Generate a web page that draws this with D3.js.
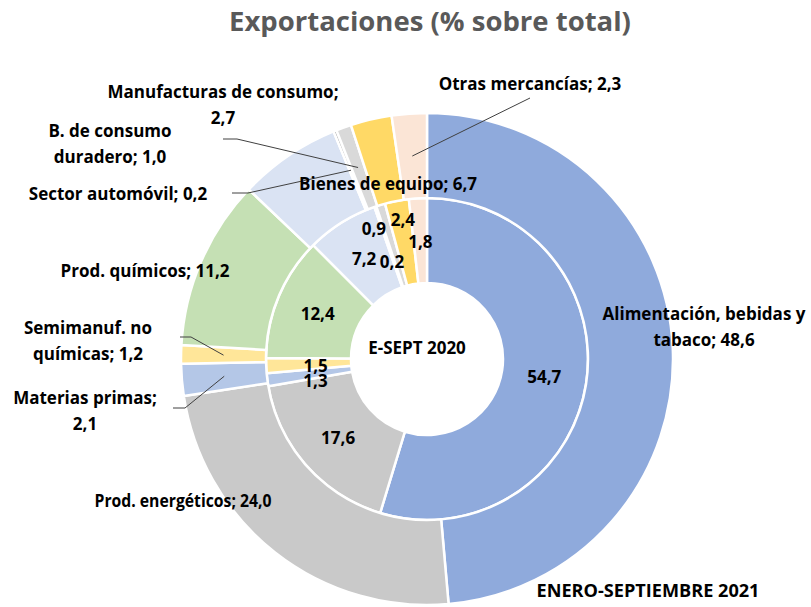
<!DOCTYPE html>
<html>
<head>
<meta charset="utf-8">
<script src="https://cdn.jsdelivr.net/npm/d3@7"></script>
<style>
  html, body { margin: 0; padding: 0; background: #fff; }
  svg { display: block; }
</style>
</head>
<body>
<svg id="chart" width="811" height="607"></svg>
<script>
// ---- Data ----
const categories = [
  "Alimentación, bebidas y tabaco",
  "Prod. energéticos",
  "Materias primas",
  "Semimanuf. no químicas",
  "Prod. químicos",
  "Bienes de equipo",
  "Sector automóvil",
  "B. de consumo duradero",
  "Manufacturas de consumo",
  "Otras mercancías"
];
const values2021 = [48.6, 24.0, 2.1, 1.2, 11.2, 6.7, 0.2, 1.0, 2.7, 2.3];
const values2020 = [54.7, 17.6, 1.3, 1.5, 12.4, 7.2, 0.2, 0.9, 2.4, 1.8];
const colors = ["#8FAADC", "#C9C9C9", "#B4C7E7", "#FFE699", "#C5E0B4",
                "#DAE3F3", "#A5A5A5", "#D9D9D9", "#FFD966", "#FBE5D6"];
const titleText = "Exportaciones (% sobre total)";
const innerSeriesName = "E-SEPT 2020";
const outerSeriesName = "ENERO-SEPTIEMBRE 2021";

// ---- Layout ----
const W = 811, H = 607;
const cx = 427, cy = 359;
const rHole = 76, rMid = 161, rOuter = 246;
const labelFont = "'Open Sans', 'Noto Sans', sans-serif";
const labelSize = 17;
const lineH = 26;

// outer labels: words on first line, centre x, first-line y, optional squeezed width
const outerLayout = [
  { n: 3, x: 704, y: 313 },
  { n: 99, x: 183, y: 500, len: 177 },
  { n: 2, x: 85, y: 397 },
  { n: 2, x: 88, y: 327 },
  { n: 99, x: 145, y: 270 },
  { n: 99, x: 388, y: 183 },
  { n: 99, x: 118, y: 193 },
  { n: 3, x: 110, y: 130 },
  { n: 3, x: 223, y: 91 },
  { n: 99, x: 530, y: 83 }
];
// leader lines: start point and optional elbow (null = none)
const leaders = [
  null, null,
  { s: [173, 408], e: [185, 408] },
  { s: [180, 337], e: [191, 337] },
  null, null,
  { s: [232, 193], e: [248, 193] },
  { s: [223, 139], e: [237, 139] },
  null,
  { s: [530, 98], e: null }
];
// inner label offsets from slice centroid
const innerOffsets = [
  [0, 0], [0, 0], [6, 6], [7, 2], [0, 0],
  [0, 0], [3, 15], [-19, -17], [-2, -23], [0, 1]
];

const fmt = d3.formatLocale({ decimal: ",", thousands: ".", grouping: [3], currency: ["", "€"] }).format(".1f");

const svg = d3.select("#chart");

// Title
svg.append("text")
  .attr("x", 430).attr("y", 20)
  .attr("text-anchor", "middle").attr("dominant-baseline", "central")
  .attr("font-family", "'Open Sans', 'DejaVu Sans', sans-serif")
  .attr("font-weight", "bold").attr("font-size", 27.5)
  .attr("fill", "#595959")
  .text(titleText);

const g = svg.append("g").attr("transform", `translate(${cx},${cy})`);

const pie = d3.pie().sort(null).value(d => d);
const arcsOuter = pie(values2021);
const arcsInner = pie(values2020);

const arcOuter = d3.arc().innerRadius(rMid).outerRadius(rOuter);
const arcInner = d3.arc().innerRadius(rHole).outerRadius(rMid);

g.append("g").selectAll("path").data(arcsInner).join("path")
  .attr("d", arcInner)
  .attr("fill", (d, i) => colors[i])
  .attr("stroke", "#fff").attr("stroke-width", 2.5).attr("stroke-linejoin", "round");

g.append("g").selectAll("path").data(arcsOuter).join("path")
  .attr("d", arcOuter)
  .attr("fill", (d, i) => colors[i])
  .attr("stroke", "#fff").attr("stroke-width", 2.5).attr("stroke-linejoin", "round");

// leader lines
const leaderG = svg.append("g");
arcsOuter.forEach((d, i) => {
  const L = leaders[i];
  if (!L) return;
  const c = arcOuter.centroid(d);
  const pts = [L.s];
  if (L.e) pts.push(L.e);
  pts.push([cx + c[0], cy + c[1]]);
  leaderG.append("path")
    .attr("d", d3.line()(pts))
    .attr("fill", "none").attr("stroke", "#404040").attr("stroke-width", 1);
});

// inner labels
g.append("g").selectAll("text").data(arcsInner).join("text")
  .attr("x", (d, i) => arcInner.centroid(d)[0] + innerOffsets[i][0])
  .attr("y", (d, i) => arcInner.centroid(d)[1] + innerOffsets[i][1])
  .attr("text-anchor", "middle").attr("dominant-baseline", "central")
  .attr("font-family", labelFont).attr("font-weight", "bold")
  .attr("font-size", labelSize).attr("fill", "#000")
  .text(d => fmt(d.data));

// outer labels
const outerG = svg.append("g");
arcsOuter.forEach((d, i) => {
  const words = `${categories[i]}; ${fmt(d.data)}`.split(" ");
  const L = outerLayout[i];
  const lines = [words.slice(0, L.n).join(" ")];
  if (words.length > L.n) lines.push(words.slice(L.n).join(" "));
  const t = outerG.append("text")
    .attr("text-anchor", "middle")
    .attr("font-family", labelFont).attr("font-weight", "bold")
    .attr("font-size", labelSize).attr("fill", "#000");
  lines.forEach((ln, k) => {
    const ts = t.append("tspan").attr("x", L.x).attr("y", L.y + k * lineH)
      .attr("dominant-baseline", "central").text(ln);
    if (L.len) ts.attr("textLength", L.len).attr("lengthAdjust", "spacingAndGlyphs");
  });
});

// series names
svg.append("text")
  .attr("x", 417).attr("y", 347)
  .attr("text-anchor", "middle").attr("dominant-baseline", "central")
  .attr("font-family", labelFont).attr("font-weight", "bold")
  .attr("font-size", labelSize).attr("fill", "#000")
  .text(innerSeriesName);
svg.append("text")
  .attr("x", 648).attr("y", 590)
  .attr("text-anchor", "middle").attr("dominant-baseline", "central")
  .attr("font-family", labelFont).attr("font-weight", "bold")
  .attr("font-size", labelSize).attr("fill", "#000")
  .attr("textLength", 223).attr("lengthAdjust", "spacingAndGlyphs")
  .text(outerSeriesName);
</script>
</body>
</html>
